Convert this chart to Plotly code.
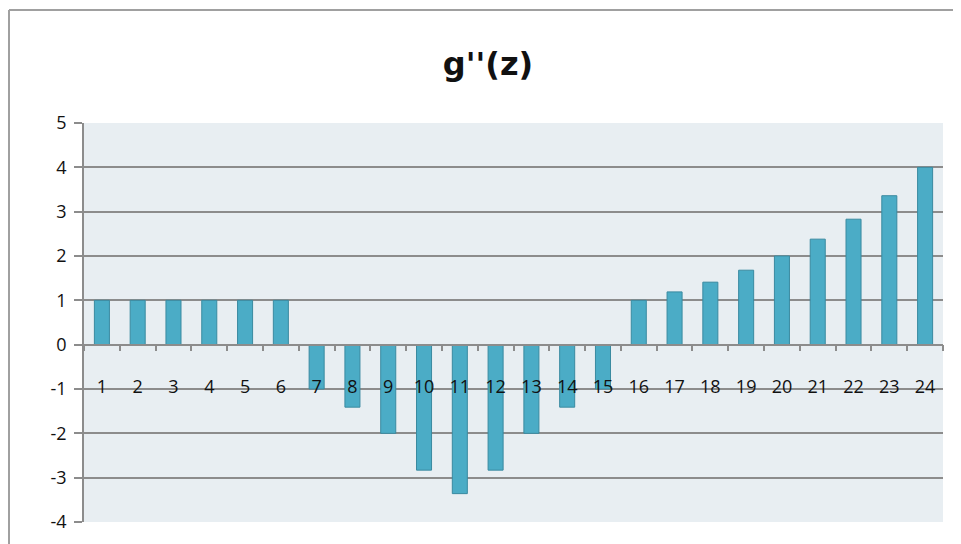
import plotly.graph_objects as go

categories = [str(i) for i in range(1, 25)]
values = [1, 1, 1, 1, 1, 1, -1, -1.41, -2, -2.83, -3.36, -2.83, -2, -1.41, -1,
          1, 1.19, 1.41, 1.68, 2, 2.38, 2.83, 3.36, 4]
title_text = "g''(z)"
y_ticks = [-4, -3, -2, -1, 0, 1, 2, 3, 4, 5]
y_ticktext = ["-4", "-3", "-2", "-1", "0", "1", "2", "3", "4", "5"]

OFF = 8  # page body offset
W, H = 961 - OFF, 544 - OFF
L, R, T, B = 84 - OFF, 18, 123 - OFF, 22
pw = W - L - R
ph = H - T - B

def px_x(page_x):
    return (page_x - OFF - L) / pw

def px_y(page_y):
    return (H - B - (page_y - OFF)) / ph

fig = go.Figure()
fig.add_trace(go.Bar(
    x=categories, y=values,
    marker=dict(color="#4BACC6", line=dict(color="#3A8AA0", width=1)),
    showlegend=False,
))

gray = "#8C8C8C"
border = dict(color="#A0A0A0", width=2)
fig.update_layout(
    width=W, height=H,
    margin=dict(l=L, r=R, t=T, b=B, autoexpand=False),
    paper_bgcolor="white",
    plot_bgcolor="#E8EEF2",
    bargap=0.58,
    font=dict(family="Open Sans, Liberation Sans, sans-serif", color="#222"),
    title=dict(text=title_text, x=(488 - OFF) / W, xanchor="center", y=1 - (64 - OFF) / H,
               yanchor="middle",
               font=dict(size=32, family="DejaVu Sans, sans-serif", color="#111", weight="bold")),
    xaxis=dict(
        type="category", anchor="free", position=4 / 9, automargin=False,
        showline=True, linecolor=gray, linewidth=1.5,
        ticks="outside", ticklen=6, tickcolor=gray, tickwidth=1.5,
        tickson="boundaries", showgrid=False, zeroline=False,
        ticklabelstandoff=26,
        tickfont=dict(size=18, color="#111"),
    ),
    yaxis=dict(
        range=[-4, 5], tickvals=y_ticks, ticktext=y_ticktext, automargin=False,
        showgrid=True, gridcolor=gray, gridwidth=1.5,
        zeroline=False, showline=True, linecolor=gray, linewidth=1.5,
        ticks="outside", ticklen=8, tickcolor=gray, tickwidth=1.5,
        tickfont=dict(size=18, color="#111"), ticklabelstandoff=4,
    ),
    shapes=[
        dict(type="line", xref="paper", yref="paper",
             x0=px_x(9), x1=px_x(1000), y0=px_y(10), y1=px_y(10), line=border, layer="below"),
        dict(type="line", xref="paper", yref="paper",
             x0=px_x(9), x1=px_x(9), y0=px_y(10), y1=px_y(600), line=border, layer="below"),
    ],
)

fig.write_html("out.html")
